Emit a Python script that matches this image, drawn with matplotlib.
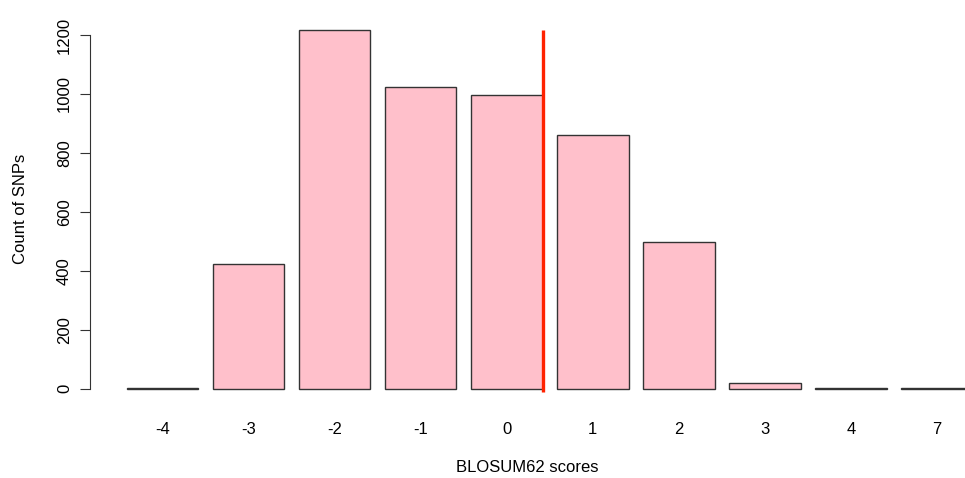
import matplotlib
matplotlib.use("Agg")
import matplotlib.pyplot as plt
import numpy as np

plt.rcParams['font.family'] = ['Liberation Sans', 'DejaVu Sans']

# BLOSUM62 score categories and SNP counts
scores = ['-4', '-3', '-2', '-1', '0', '1', '2', '3', '4', '7']
counts = [2, 424, 1217, 1024, 997, 861, 498, 20, 1, 1]
cutoff_after = '0'   # red line drawn at the right edge of this bar

fig = plt.figure(figsize=(9.65, 4.78), dpi=100)
ax = fig.add_axes([90 / 965, 75 / 478, 875 / 965, 387.4 / 478])

# R barplot layout: width 1, space 0.2
pos = 0.2 + 1.2 * np.arange(len(scores)) + 0.5
ax.bar(pos, counts, width=1.0, color='pink', edgecolor='#333333', linewidth=1.0)

cut_x = pos[scores.index(cutoff_after)] + 0.5
ax.vlines(cut_x, -10, max(counts), color='#ff2200', linewidth=2.4, zorder=5)

ax.set_xlim(-0.31, 11.89)
ax.set_ylim(-48.7, 1265.7)

for s in ['top', 'right', 'bottom']:
    ax.spines[s].set_visible(False)
ax.spines['left'].set_bounds(0, 1200)
ax.spines['left'].set_color('#333333')
ax.set_yticks(np.arange(0, 1201, 200))
ax.set_yticklabels([str(v) for v in range(0, 1201, 200)], rotation=90, va='center', fontsize=12)
ax.tick_params(axis='y', length=7, color='#333333', pad=6)
ax.set_xticks(pos)
ax.set_xticklabels(scores, fontsize=12)
ax.tick_params(axis='x', length=0, pad=14)

ax.set_xlabel('BLOSUM62 scores', fontsize=12, labelpad=16)
ax.set_ylabel('Count of SNPs', fontsize=12, labelpad=21)

fig.savefig('out.png', dpi=100)
